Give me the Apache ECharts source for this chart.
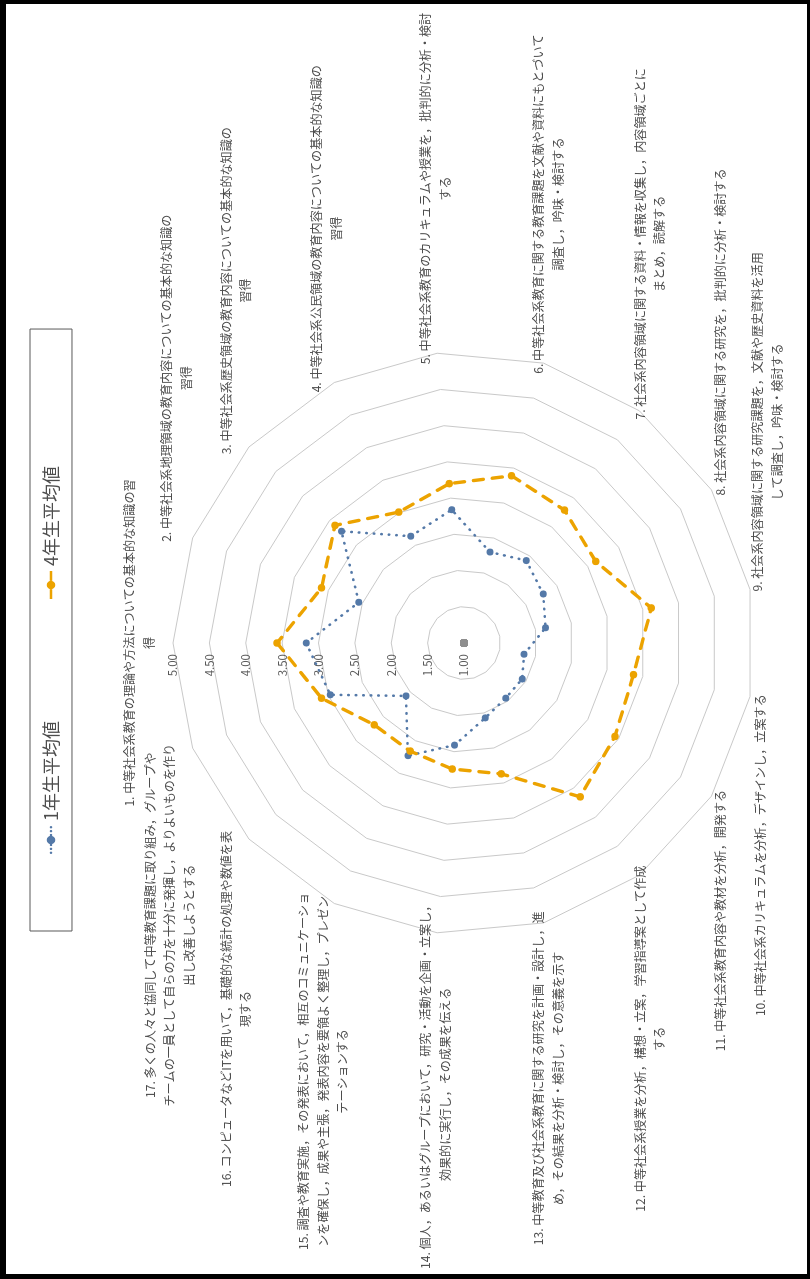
<!DOCTYPE html>
<html>
<head>
<meta charset="utf-8">
<script src="https://cdn.jsdelivr.net/npm/echarts@6/dist/echarts.min.js"></script>
<style>
  html, body { margin: 0; padding: 0; background: #fff; width: 810px; height: 1279px; overflow: hidden; }
  /* the chart is laid out landscape and turned a quarter turn to stand on the page */
  #chart { position: absolute; left: 0; top: 0; width: 1279px; height: 810px;
           transform-origin: 0 0; transform: translate(0, 1279px) rotate(-90deg); }
  #frame { position: absolute; left: 0; top: 0; width: 810px; height: 1279px; box-sizing: border-box;
           border: solid #000; border-width: 4px 3px 5px 6px; pointer-events: none; }
</style>
</head>
<body>
<div id="chart"></div>
<div id="frame"></div>
<script>
const FONT = '"Noto Sans CJK JP", "Noto Sans", sans-serif';

// competency items (line breaks as printed)
const categories = [
  '1. 中等社会系教育の理論や方法についての基本的な知識の習\n得',
  '2. 中等社会系地理領域の教育内容についての基本的な知識の\n習得',
  '3. 中等社会系歴史領域の教育内容についての基本的な知識の\n習得',
  '4. 中等社会系公民領域の教育内容についての基本的な知識の\n習得',
  '5. 中等社会系教育のカリキュラムや授業を，批判的に分析・検討\nする',
  '6. 中等社会系教育に関する教育課題を文献や資料にもとづいて\n調査し，吟味・検討する',
  '7. 社会系内容領域に関する資料・情報を収集し，内容領域ごとに\nまとめ，読解する',
  '8. 社会系内容領域に関する研究を，批判的に分析・検討する',
  '9. 社会系内容領域に関する研究課題を，文献や歴史資料を活用\nして調査し，吟味・検討する',
  '10. 中等社会系カリキュラムを分析，デザインし，立案する',
  '11. 中等社会系教育内容や教材を分析，開発する',
  '12. 中等社会系授業を分析，構想・立案，学習指導案として作成\nする',
  '13. 中等教育及び社会系教育に関する研究を計画・設計し，進\nめ，その結果を分析・検討し，その意義を示す',
  '14. 個人，あるいはグループにおいて，研究・活動を企画・立案し，\n効果的に実行し，その成果を伝える',
  '15. 調査や教育実施，その発表において，相互のコミュニケーショ\nンを確保し，成果や主張，発表内容を要領よく整理し，プレゼン\nテーションする',
  '16. コンピュータなどITを用いて，基礎的な統計の処理や数値を表\n現する',
  '17. 多くの人々と協同して中等教育課題に取り組み，グループや\nチームの一員として自らの力を十分に発揮し，よりよいものを作り\n出し改善しようとする'
];

const seriesNames = ['1年生平均値', '4年生平均値'];

// mean self-ratings per item
const firstYearAvg  = [3.17, 2.55, 3.28, 2.64, 2.84, 2.30, 2.42, 2.28, 2.14, 1.84, 1.94, 1.95, 2.07, 2.41, 2.73, 2.08, 2.97];
const fourthYearAvg = [3.57, 3.10, 3.40, 3.01, 3.20, 3.39, 3.29, 3.13, 3.62, 3.37, 3.44, 3.65, 2.87, 2.74, 2.66, 2.67, 3.10];
// grey marker sitting at the scale origin
const originMarks   = [1.00, 1.00, 1.00, 1.00, 1.00, 1.00, 1.00, 1.00, 1.00, 1.00, 1.00, 1.00, 1.00, 1.00, 1.00, 1.00, 1.00];

// value scale: 1.00 … 5.00 in steps of 0.50
const scaleMin = 1;
const scaleMax = 5;
const scaleSplits = 8;

const BLUE = '#5479a8';
const ORANGE = '#eca300';
const GREY = '#8f8f8f';
const TEXT = '#4d4d4d';
const LABEL_SIZE = 12.1;
const LINE_H = 19.5;
const CENTER = [636, 464];
const RADIUS = 291;
const CANVAS_W = 1279, CANVAS_H = 810;

// ECharts places radar indicators counter-clockwise from the top;
// reorder so items 1..17 run clockwise.
const N = categories.length;
const order = categories.map((_, j) => (N - j) % N);
const pick = arr => order.map(k => arr[k]);

const indicator = order.map((k, j) => {
  const ind = { name: categories[k], min: scaleMin, max: scaleMax };
  if (j === 0) {
    ind.axisLabel = {
      show: true, color: '#595959', fontSize: 11.5, fontFamily: FONT, margin: 11,
      formatter: v => Number(v).toFixed(2)
    };
  }
  return ind;
});

// legend glyphs: dotted line with marker, dashed line with marker
const dot = (cx, cy, r) => `M${cx - r} ${cy}a${r} ${r} 0 1 0 ${2 * r} 0a${r} ${r} 0 1 0 ${-2 * r} 0Z`;
const dottedIcon = 'path://' + [1.3, 5.5, 9.7].map(x => dot(x, 4.5, 1.3)).join('') + dot(15, 4.5, 4.5) +
                   [20.3, 24.5, 28.7].map(x => dot(x, 4.5, 1.3)).join('');
const dashedIcon = 'path://M0 3.2H10.5V5.8H0Z' + dot(15, 4.5, 4.5) + 'M19.5 3.2H30V5.8H19.5Z';

const chart = echarts.init(document.getElementById('chart'), null, { width: CANVAS_W, height: CANVAS_H, renderer: 'canvas' });

chart.setOption({
  animation: false,
  backgroundColor: '#ffffff',
  legend: {
    left: 348, top: 30,
    padding: [12, 137, 12, 77],
    itemGap: 122, itemWidth: 28, itemHeight: 8.4,
    borderColor: '#595959', borderWidth: 1,
    selectedMode: false,
    textStyle: { fontSize: 18, color: TEXT, fontFamily: FONT },
    data: [
      { name: seriesNames[0], icon: dottedIcon },
      { name: seriesNames[1], icon: dashedIcon }
    ]
  },
  radar: {
    center: CENTER,
    radius: RADIUS,
    startAngle: 90,
    splitNumber: scaleSplits,
    shape: 'polygon',
    indicator: indicator,
    axisName: { show: false },
    axisLine: { show: false },
    axisTick: { show: false },
    axisLabel: { show: false },
    splitLine: { lineStyle: { color: '#c9c9c9', width: 1 } },
    splitArea: { show: false }
  },
  series: [
    {
      type: 'radar',
      silent: true,
      data: [{
        name: '原点', value: pick(originMarks),
        symbol: 'circle', symbolSize: 8,
        itemStyle: { color: GREY }, lineStyle: { width: 0, opacity: 0 }
      }]
    },
    {
      type: 'radar',
      data: [
        {
          name: seriesNames[0], value: pick(firstYearAvg),
          symbol: 'circle', symbolSize: 7,
          itemStyle: { color: BLUE },
          lineStyle: { color: BLUE, width: 2.6, type: [0.5, 7], cap: 'round' }
        },
        {
          name: seriesNames[1], value: pick(fourthYearAvg),
          symbol: 'circle', symbolSize: 7.5,
          itemStyle: { color: ORANGE },
          lineStyle: { color: ORANGE, width: 3.4, type: [10, 9], cap: 'round' }
        }
      ]
    }
  ]
});

// item captions, anchored on the outer ring end of each axis
function radarGeometry() {
  try {
    const cs = chart.getModel().getComponent('radar').coordinateSystem;
    if (cs && typeof cs.dataToPoint === 'function') {
      return { cx: cs.cx, cy: cs.cy, end: j => cs.dataToPoint(scaleMax, j) };
    }
  } catch (e) { /* fall through */ }
  return {
    cx: CENTER[0], cy: CENTER[1],
    end: j => {
      const a = Math.PI / 2 + j * 2 * Math.PI / N;
      return [CENTER[0] + RADIUS * Math.cos(a), CENTER[1] - RADIUS * Math.sin(a)];
    }
  };
}

const geo = radarGeometry();
const ctx = document.createElement('canvas').getContext('2d');
ctx.font = `${LABEL_SIZE}px ${FONT}`;
const elements = [];
order.forEach((k, j) => {
  const [ex, ey] = geo.end(j);
  let ux = ex - geo.cx, uy = ey - geo.cy;
  const len = Math.hypot(ux, uy) || 1;
  ux /= len; uy /= len;
  const lines = categories[k].split('\n');
  const w = Math.max(...lines.map(l => ctx.measureText(l).width));
  const h = lines.length * LINE_H;
  let midX, midY;
  if (ux > 0.1) midX = ex - 11 * ux + w / 2;          // right half: block starts at the ring
  else if (ux < -0.1) midX = ex - 12 * ux - w / 2;    // left half: block ends at the ring
  else midX = ex;                                      // straight up: centred
  // keep every caption inside the drawing area
  const minX = 10 + w / 2, maxX = CANVAS_W - 8 - w / 2;
  midX = Math.min(Math.max(midX, minX), maxX);
  if (Math.abs(ux) <= 0.1 && uy < 0) midY = ey - 14 - h / 2;  // top caption sits above the ring
  else midY = ey + uy * (0.35 * h + 4);
  lines.forEach((line, i) => {
    elements.push({
      type: 'text', silent: true,
      x: midX, y: midY - h / 2 + LINE_H * (i + 0.5),
      style: { text: line, fontSize: LABEL_SIZE, fontFamily: FONT, fill: TEXT, align: 'center', verticalAlign: 'middle' }
    });
  });
});
chart.setOption({ graphic: { elements: elements } });
</script>
</body>
</html>
